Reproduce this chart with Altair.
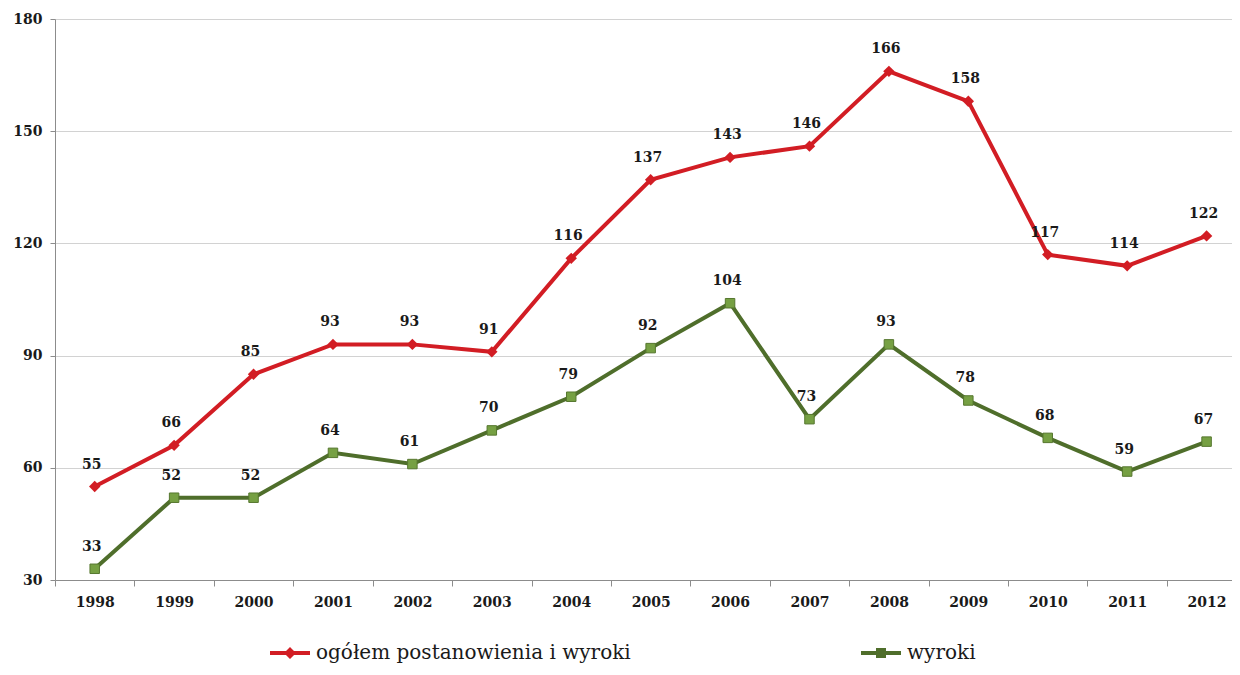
import altair as alt
import pandas as pd

years = list(range(1998, 2013))
total = [55, 66, 85, 93, 93, 91, 116, 137, 143, 146, 166, 158, 117, 114, 122]
wyroki = [33, 52, 52, 64, 61, 70, 79, 92, 104, 73, 93, 78, 68, 59, 67]
series_names = ["ogółem postanowienia i wyroki", "wyroki"]
line_colors = ["#d21d24", "#4f6e2b"]

rows = []
for y, v in zip(years, total):
    rows.append({"year": y, "value": v, "series": series_names[0]})
for y, v in zip(years, wyroki):
    rows.append({"year": y, "value": v, "series": series_names[1]})
df = pd.DataFrame(rows)

FONT = "DejaVu Serif"

x = alt.X("year:Q",
          scale=alt.Scale(domain=[1997.5, 2012.32], nice=False, zero=False),
          axis=alt.Axis(values=years, format="d", title=None, grid=False,
                        tickOffset=-39.7, labelOffset=39.7, tickSize=6,
                        tickColor="#8c8c8c",
                        domainColor="#8c8c8c", labelFont=FONT, labelFontSize=14,
                        labelFontWeight="bold", labelColor="#1a1a1a",
                        labelPadding=9))
y = alt.Y("value:Q",
          scale=alt.Scale(domain=[30, 180], nice=False, zero=False),
          axis=alt.Axis(values=[30, 60, 90, 120, 150, 180], title=None,
                        gridColor="#d2d2d2", tickColor="#8c8c8c", tickSize=5,
                        domainColor="#8c8c8c", labelFont=FONT, labelFontSize=14,
                        labelFontWeight="bold", labelColor="#1a1a1a",
                        labelPadding=8))

color_scale = alt.Scale(domain=series_names, range=line_colors)

base = alt.Chart(df)

lines = base.mark_line(strokeWidth=4).encode(
    x=x, y=y,
    color=alt.Color("series:N", scale=color_scale, legend=None),
)

pts_total = base.transform_filter(
    alt.datum.series == series_names[0]
).mark_point(shape="diamond", filled=True, size=130, opacity=1,
             color="#d21d24").encode(x=x, y=y)

pts_wyroki = base.transform_filter(
    alt.datum.series == series_names[1]
).mark_point(shape="square", filled=True, size=90, opacity=1,
             color="#76a043", stroke="#56772f", strokeWidth=1).encode(x=x, y=y)

labels = base.mark_text(font=FONT, fontSize=14, fontWeight="bold",
                        color="#1a1a1a", dy=-22, dx=-3).encode(
    x=x, y=y, text=alt.Text("value:Q"))

diamond_path = "M-1,-0.1H1V0.1H-1Z M0,-0.3L0.3,0L0,0.3L-0.3,0Z"
square_path = "M-1,-0.1H1V0.1H-1Z M-0.25,-0.25H0.25V0.25H-0.25Z"

legend = alt.Legend(title=None, orient="none", legendX=215, legendY=614,
                    direction="horizontal", columnPadding=230,
                    symbolSize=1600, symbolStrokeWidth=0, labelFont=FONT,
                    labelFontSize=20, labelColor="#1a1a1a", labelOffset=6,
                    labelLimit=0)

legend_layer = base.transform_filter(alt.datum.value < 0).mark_point(
    filled=True, opacity=1).encode(
    color=alt.Color("series:N", scale=color_scale, legend=legend),
    shape=alt.Shape("series:N",
                    scale=alt.Scale(domain=series_names,
                                    range=[diamond_path, square_path]),
                    legend=legend),
)

chart = alt.layer(lines, pts_total, pts_wyroki, labels, legend_layer).resolve_legend(
    color="independent", shape="independent"
).properties(
    width=1177, height=561,
    autosize=alt.AutoSizeParams(type="none"),
    padding={"left": 47, "top": 11, "right": 0, "bottom": 84},
    background="white",
).configure_view(fill="#ebebeb", strokeWidth=0)

chart.save("out.html", embed_options={"renderer": "svg", "actions": False})
